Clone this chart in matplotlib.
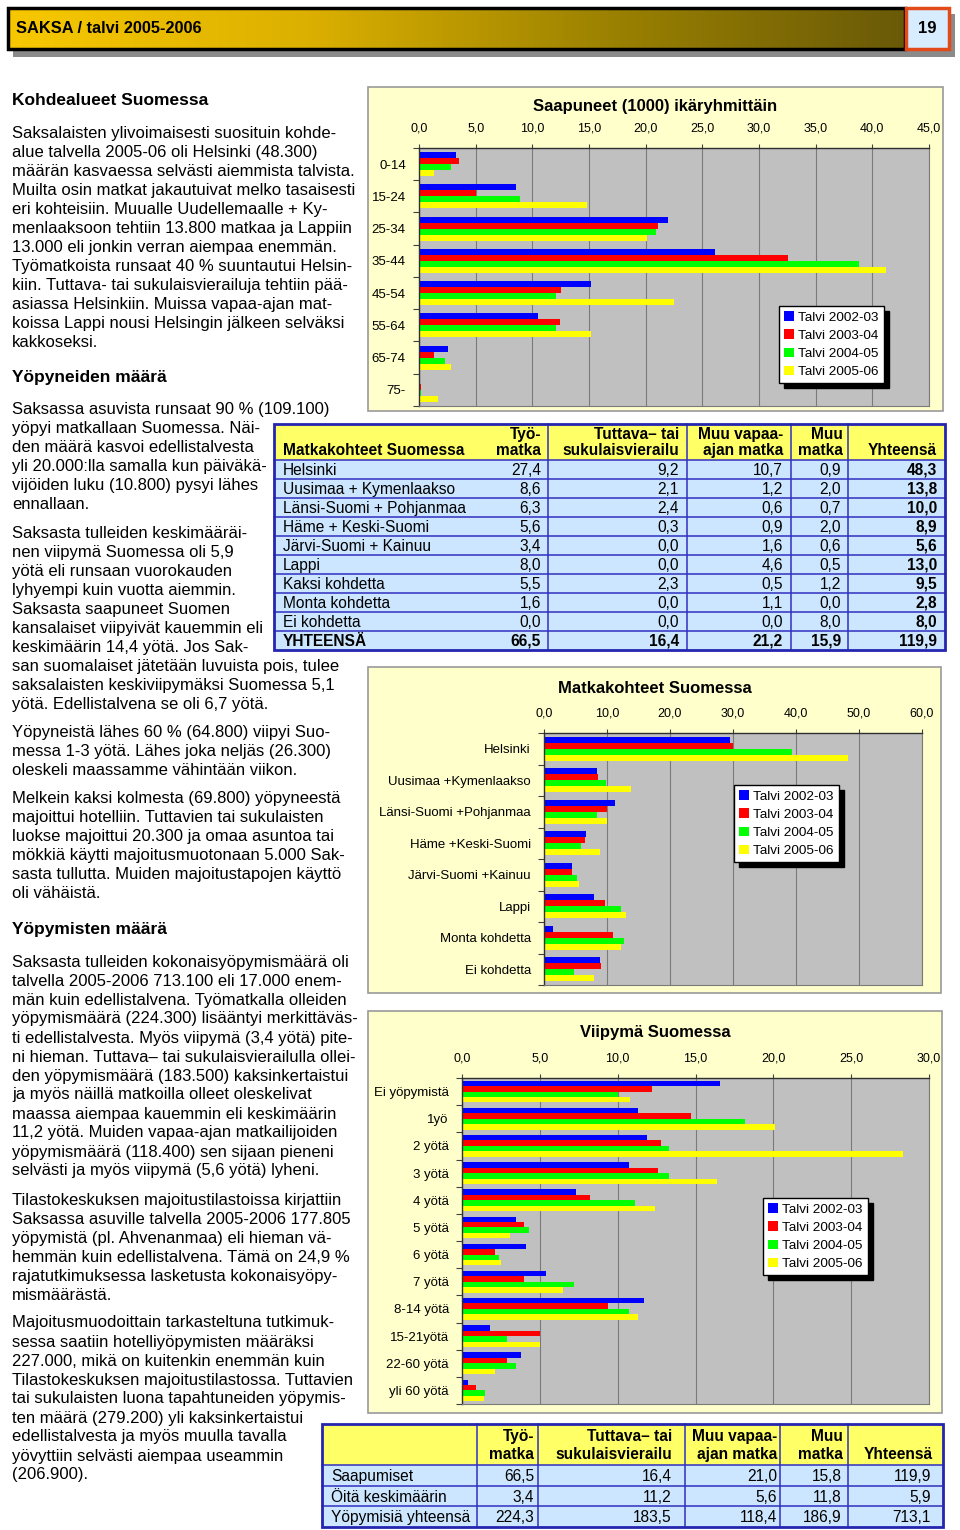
import numpy as np
import matplotlib
matplotlib.use('Agg')
import matplotlib.pyplot as plt
from matplotlib.patches import Rectangle
from matplotlib.colors import LinearSegmentedColormap
from matplotlib.ticker import FuncFormatter

plt.rcParams['font.family'] = ['Liberation Sans', 'DejaVu Sans']

W, H = 960, 1530

# ---- data ----
seasons = ['Talvi 2002-03', 'Talvi 2003-04', 'Talvi 2004-05', 'Talvi 2005-06']
season_colors = ['#0000ff', '#ff0000', '#00ff00', '#ffff00']

age_groups = ['0-14', '15-24', '25-34', '35-44', '45-54', '55-64', '65-74', '75-']
age_0203 = [3.3, 8.6, 22.0, 26.1, 15.2, 10.5, 2.6, 0.0]
age_0304 = [3.5, 5.0, 21.1, 32.6, 12.5, 12.4, 1.3, 0.2]
age_0405 = [2.8, 8.9, 20.9, 38.8, 12.1, 12.1, 2.3, 0.2]
age_0506 = [1.3, 14.8, 20.1, 41.2, 22.5, 15.2, 2.8, 1.7]

dest_labels = ['Helsinki', 'Uusimaa +Kymenlaakso', 'Länsi-Suomi +Pohjanmaa',
               'Häme +Keski-Suomi', 'Järvi-Suomi +Kainuu', 'Lappi',
               'Monta kohdetta', 'Ei kohdetta']
dest_0203 = [29.6, 8.4, 11.2, 6.7, 4.4, 7.9, 1.4, 8.9]
dest_0304 = [30.0, 8.6, 10.0, 6.5, 4.4, 9.7, 10.9, 9.0]
dest_0405 = [39.3, 9.8, 8.4, 5.8, 5.3, 12.3, 12.7, 4.8]
dest_0506 = [48.3, 13.8, 10.0, 8.9, 5.6, 13.0, 12.3, 8.0]

stay_labels = ['Ei yöpymistä', '1yö', '2 yötä', '3 yötä', '4 yötä', '5 yötä',
               '6 yötä', '7 yötä', '8-14 yötä', '15-21yötä', '22-60 yötä', 'yli 60 yötä']
stay_0203 = [16.6, 11.3, 11.9, 10.7, 7.3, 3.5, 4.1, 5.4, 11.7, 1.8, 3.8, 0.4]
stay_0304 = [12.2, 14.7, 12.8, 12.6, 8.2, 4.0, 2.1, 4.0, 9.4, 5.0, 2.9, 0.9]
stay_0405 = [10.0, 18.2, 13.3, 13.3, 11.1, 4.3, 2.4, 7.2, 10.7, 2.9, 3.5, 1.5]
stay_0506 = [10.8, 20.1, 28.3, 16.4, 12.4, 3.1, 2.5, 6.5, 11.3, 5.0, 2.1, 1.4]

# table: Matkakohteet Suomessa
tbl_rows = ['Helsinki', 'Uusimaa + Kymenlaakso', 'Länsi-Suomi + Pohjanmaa',
            'Häme + Keski-Suomi', 'Järvi-Suomi + Kainuu', 'Lappi', 'Kaksi kohdetta',
            'Monta kohdetta', 'Ei kohdetta', 'YHTEENSÄ']
tbl_tyo = [27.4, 8.6, 6.3, 5.6, 3.4, 8.0, 5.5, 1.6, 0.0, 66.5]
tbl_tuttava = [9.2, 2.1, 2.4, 0.3, 0.0, 0.0, 2.3, 0.0, 0.0, 16.4]
tbl_vapaa = [10.7, 1.2, 0.6, 0.9, 1.6, 4.6, 0.5, 1.1, 0.0, 21.2]
tbl_muu = [0.9, 2.0, 0.7, 2.0, 0.6, 0.5, 1.2, 0.0, 8.0, 15.9]
tbl_yht = [48.3, 13.8, 10.0, 8.9, 5.6, 13.0, 9.5, 2.8, 8.0, 119.9]

# table: yöpymiset
yop_rows = ['Saapumiset', 'Öitä keskimäärin', 'Yöpymisiä yhteensä']
yop_saapumiset = [66.5, 16.4, 21.0, 15.8, 119.9]
yop_oita = [3.4, 11.2, 5.6, 11.8, 5.9]
yop_yhteensa = [224.3, 183.5, 118.4, 186.9, 713.1]

col_heads = [('Työ-', 'matka'), ('Tuttava– tai', 'sukulaisvierailu'),
             ('Muu vapaa-', 'ajan matka'), ('Muu', 'matka'), ('', 'Yhteensä')]

# ---- left column text ----
paragraphs = [
    ('h', 100, ['Kohdealueet Suomessa']),
    ('p', 133, ['Saksalaisten ylivoimaisesti suosituin kohde-',
                'alue talvella 2005-06 oli Helsinki (48.300)',
                'määrän kasvaessa selvästi aiemmista talvista.',
                'Muilta osin matkat jakautuivat melko tasaisesti',
                'eri kohteisiin. Muualle Uudellemaalle + Ky-',
                'menlaaksoon tehtiin 13.800 matkaa ja Lappiin',
                '13.000 eli jonkin verran aiempaa enemmän.',
                'Työmatkoista runsaat 40 % suuntautui Helsin-',
                'kiin. Tuttava- tai sukulaisvierailuja tehtiin pää-',
                'asiassa Helsinkiin. Muissa vapaa-ajan mat-',
                'koissa Lappi nousi Helsingin jälkeen selväksi',
                'kakkoseksi.']),
    ('h', 377, ['Yöpyneiden määrä']),
    ('p', 409, ['Saksassa asuvista runsaat 90 % (109.100)',
                'yöpyi matkallaan Suomessa. Näi-',
                'den määrä kasvoi edellistalvesta',
                'yli 20.000:lla samalla kun päiväkä-',
                'vijöiden luku (10.800) pysyi lähes',
                'ennallaan.']),
    ('p', 533, ['Saksasta tulleiden keskimääräi-',
                'nen viipymä Suomessa oli 5,9',
                'yötä eli runsaan vuorokauden',
                'lyhyempi kuin vuotta aiemmin.',
                'Saksasta saapuneet Suomen',
                'kansalaiset viipyivät kauemmin eli',
                'keskimäärin 14,4 yötä. Jos Sak-',
                'san suomalaiset jätetään luvuista pois, tulee',
                'saksalaisten keskiviipymäksi Suomessa 5,1',
                'yötä. Edellistalvena se oli 6,7 yötä.']),
    ('p', 732, ['Yöpyneistä lähes 60 % (64.800) viipyi Suo-',
                'messa 1-3 yötä. Lähes joka neljäs (26.300)',
                'oleskeli maassamme vähintään viikon.']),
    ('p', 798, ['Melkein kaksi kolmesta (69.800) yöpyneestä',
                'majoittui hotelliin. Tuttavien tai sukulaisten',
                'luokse majoittui 20.300 ja omaa asuntoa tai',
                'mökkiä käytti majoitusmuotonaan 5.000 Sak-',
                'sasta tullutta. Muiden majoitustapojen käyttö',
                'oli vähäistä.']),
    ('h', 929, ['Yöpymisten määrä']),
    ('p', 962, ['Saksasta tulleiden kokonaisyöpymismäärä oli',
                'talvella 2005-2006 713.100 eli 17.000 enem-',
                'män kuin edellistalvena. Työmatkalla olleiden',
                'yöpymismäärä (224.300) lisääntyi merkittäväs-',
                'ti edellistalvesta. Myös viipymä (3,4 yötä) pite-',
                'ni hieman. Tuttava– tai sukulaisvierailulla ollei-',
                'den yöpymismäärä (183.500) kaksinkertaistui',
                'ja myös näillä matkoilla olleet oleskelivat',
                'maassa aiempaa kauemmin eli keskimäärin',
                '11,2 yötä. Muiden vapaa-ajan matkailijoiden',
                'yöpymismäärä (118.400) sen sijaan pieneni',
                'selvästi ja myös viipymä (5,6 yötä) lyheni.']),
    ('p', 1200, ['Tilastokeskuksen majoitustilastoissa kirjattiin',
                 'Saksassa asuville talvella 2005-2006 177.805',
                 'yöpymistä (pl. Ahvenanmaa) eli hieman vä-',
                 'hemmän kuin edellistalvena. Tämä on 24,9 %',
                 'rajatutkimuksessa lasketusta kokonaisyöpy-',
                 'mismäärästä.']),
    ('p', 1323, ['Majoitusmuodoittain tarkasteltuna tutkimuk-',
                 'sessa saatiin hotelliyöpymisten määräksi',
                 '227.000, mikä on kuitenkin enemmän kuin',
                 'Tilastokeskuksen majoitustilastossa. Tuttavien',
                 'tai sukulaisten luona tapahtuneiden yöpymis-',
                 'ten määrä (279.200) yli kaksinkertaistui',
                 'edellistalvesta ja myös muulla tavalla',
                 'yövyttiin selvästi aiempaa useammin',
                 '(206.900).']),
]


def fmt(v):
    return f'{v:.1f}'.replace('.', ',')


fig = plt.figure(figsize=(W / 100, H / 100), dpi=100)
fig.patch.set_facecolor('white')
ax0 = fig.add_axes([0, 0, 1, 1])
ax0.set_xlim(0, W)
ax0.set_ylim(H, 0)
ax0.axis('off')

# ---- header bar ----
ax0.add_patch(Rectangle((13, 14), 942, 43, fc='#8a8a8a', ec='none'))
grad = LinearSegmentedColormap.from_list('g', ['#f7c800', '#dcb000', '#9c8200', '#6a5a08'])
ax0.imshow(np.linspace(0, 1, 256)[None, :], cmap=grad, extent=[8, 905, 49, 8],
           aspect='auto', zorder=1)
ax0.add_patch(Rectangle((8, 8), 897, 41, fc='none', ec='black', lw=2.5, zorder=2))
ax0.add_patch(Rectangle((906, 8), 43, 41, fc='#d8ecff', ec='#e24a1a', lw=2.5, zorder=2))
ax0.text(16, 28, 'SAKSA / talvi 2005-2006', fontsize=11.8, fontweight='bold',
         va='center', ha='left', zorder=3)
ax0.text(927.5, 28, '19', fontsize=12, fontweight='bold', va='center', ha='center', zorder=3)
ax0.set_xlim(0, W)
ax0.set_ylim(H, 0)

# ---- left text ----
for kind, y0, lines in paragraphs:
    for i, line in enumerate(lines):
        ax0.text(12, y0 + 19 * i, line, fontsize=12.5 if kind == 'h' else 12,
                 fontweight='bold' if kind == 'h' else 'normal',
                 va='center', ha='left')


# ---- charts ----
def px_axes(x0, y0, x1, y1):
    return fig.add_axes([x0 / W, 1 - y1 / H, (x1 - x0) / W, (y1 - y0) / H])


def bar_chart(frame, plot, title, title_y, labels, series, xmax, xstep, bar_h, leg_xy):
    fx0, fy0, fx1, fy1 = frame
    ax0.add_patch(Rectangle((fx0, fy0), fx1 - fx0, fy1 - fy0, fc='#ffffcc',
                            ec='#9a9a9a', lw=1.2))
    ax0.text((fx0 + fx1) / 2, title_y, title, fontsize=12, fontweight='bold',
             ha='center', va='center')
    ax = px_axes(*plot)
    n = len(labels)
    y = np.arange(n)
    for i, vals in enumerate(series):
        ax.barh(y + (i - 1.5) * bar_h, vals, height=bar_h, color=season_colors[i],
                label=seasons[i], lw=0)
    ax.set_facecolor('#c0c0c0')
    ax.set_xlim(0, xmax)
    ax.set_ylim(n - 0.5, -0.5)
    ax.xaxis.tick_top()
    ax.set_xticks(np.arange(0, xmax + xstep / 2, xstep))
    ax.xaxis.set_major_formatter(FuncFormatter(lambda v, p: fmt(v)))
    ax.tick_params(axis='x', length=3, pad=7, labelsize=9, color='#404040')
    ax.grid(axis='x', color='#7a7a7a', lw=0.8)
    ax.set_axisbelow(True)
    ax.set_yticks(np.arange(n + 1) - 0.5)
    ax.set_yticklabels([])
    ax.set_yticks(y, minor=True)
    ax.set_yticklabels(labels, minor=True)
    ax.tick_params(axis='y', which='major', length=4, color='#404040')
    ax.tick_params(axis='y', which='minor', length=0, pad=9.5, labelsize=9.5)
    for s in ['left', 'top']:
        ax.spines[s].set_color('#303030')
        ax.spines[s].set_linewidth(1)
    for s in ['right', 'bottom']:
        ax.spines[s].set_color('#7a7a7a')
        ax.spines[s].set_linewidth(0.8)
    ax.legend(loc='upper left', bbox_to_anchor=(leg_xy[0] / W, 1 - leg_xy[1] / H),
              bbox_transform=fig.transFigure, borderaxespad=0, fontsize=9.7,
              fancybox=False, framealpha=1, edgecolor='black',
              handlelength=0.7, handleheight=0.7, handletextpad=0.3,
              labelspacing=0.42, borderpad=0.4,
              shadow={'ox': 3.5, 'oy': -3.5, 'facecolor': 'black',
                      'edgecolor': 'black', 'alpha': 1})
    return ax


bar_chart((368, 87, 943, 411), (419, 148, 929, 406), 'Saapuneet (1000) ikäryhmittäin', 106,
          age_groups, [age_0203, age_0304, age_0405, age_0506], 45, 5, 0.185, (779, 306))
bar_chart((368, 667, 941, 993), (544, 733, 922, 985), 'Matkakohteet Suomessa', 688,
          dest_labels, [dest_0203, dest_0304, dest_0405, dest_0506], 60, 10, 0.19, (734, 785))
bar_chart((368, 1011, 942, 1413), (462, 1078, 929, 1404), 'Viipymä Suomessa', 1032,
          stay_labels, [stay_0203, stay_0304, stay_0405, stay_0506], 30, 5, 0.2, (763, 1198))


# ---- tables ----
def draw_table(x0, x1, y_top, head_h, row_h, vlines, rights, head_rights,
               row_names, cols, head_first, bold_last_col, bold_last_row):
    n = len(row_names)
    y_body = y_top + head_h
    y_bot = y_body + n * row_h
    ax0.add_patch(Rectangle((x0, y_top), x1 - x0, head_h, fc='#ffff66', ec='none', zorder=4))
    ax0.add_patch(Rectangle((x0, y_body), x1 - x0, n * row_h, fc='#cce6ff', ec='none', zorder=4))
    for k in range(n):
        yy = y_body + k * row_h
        ax0.plot([x0, x1], [yy, yy], color='#3030c0', lw=1.1, zorder=5)
    for vx in vlines:
        ax0.plot([vx, vx], [y_top, y_bot], color='#3030c0', lw=1.1, zorder=5)
    ax0.add_patch(Rectangle((x0, y_top), x1 - x0, y_bot - y_top, fc='none',
                            ec='#2525b0', lw=2, zorder=6))
    # header
    hy1 = y_top + head_h * 0.30
    hy2 = y_top + head_h * 0.74
    if head_first:
        ax0.text(x0 + 9, hy2, head_first, fontsize=11.2, fontweight='bold',
                 ha='left', va='center', zorder=7)
    for (l1, l2), hx in zip(col_heads, head_rights):
        ax0.text(hx, hy1, l1, fontsize=11.2, fontweight='bold', ha='right', va='center', zorder=7)
        ax0.text(hx, hy2, l2, fontsize=11.2, fontweight='bold', ha='right', va='center', zorder=7)
    for r, name in enumerate(row_names):
        yy = y_body + (r + 0.55) * row_h
        rb = bold_last_row and r == n - 1
        ax0.text(x0 + 9, yy, name, fontsize=11.2, fontweight='bold' if rb else 'normal',
                 ha='left', va='center', zorder=7)
        for c, (vals, rx) in enumerate(zip(cols, rights)):
            b = rb or (bold_last_col and c == len(cols) - 1)
            ax0.text(rx, yy, fmt(vals[r]), fontsize=11.2,
                     fontweight='bold' if b else 'normal',
                     ha='right', va='center', zorder=7)


draw_table(274, 945, 424, 36, 19, [548, 687, 791, 848],
           [541, 679, 783, 841, 937], [541, 679, 783, 843, 937],
           tbl_rows, [tbl_tyo, tbl_tuttava, tbl_vapaa, tbl_muu, tbl_yht],
           'Matkakohteet Suomessa', True, True)

yop_cols = [[yop_saapumiset[j], yop_oita[j], yop_yhteensa[j]] for j in range(5)]
draw_table(322, 943, 1424, 41, 20.7, [477, 538, 685, 780, 848],
           [534, 672, 777, 842, 931], [534, 672, 777, 843, 933],
           yop_rows, yop_cols, '', False, False)

fig.savefig('out.png', dpi=100)
